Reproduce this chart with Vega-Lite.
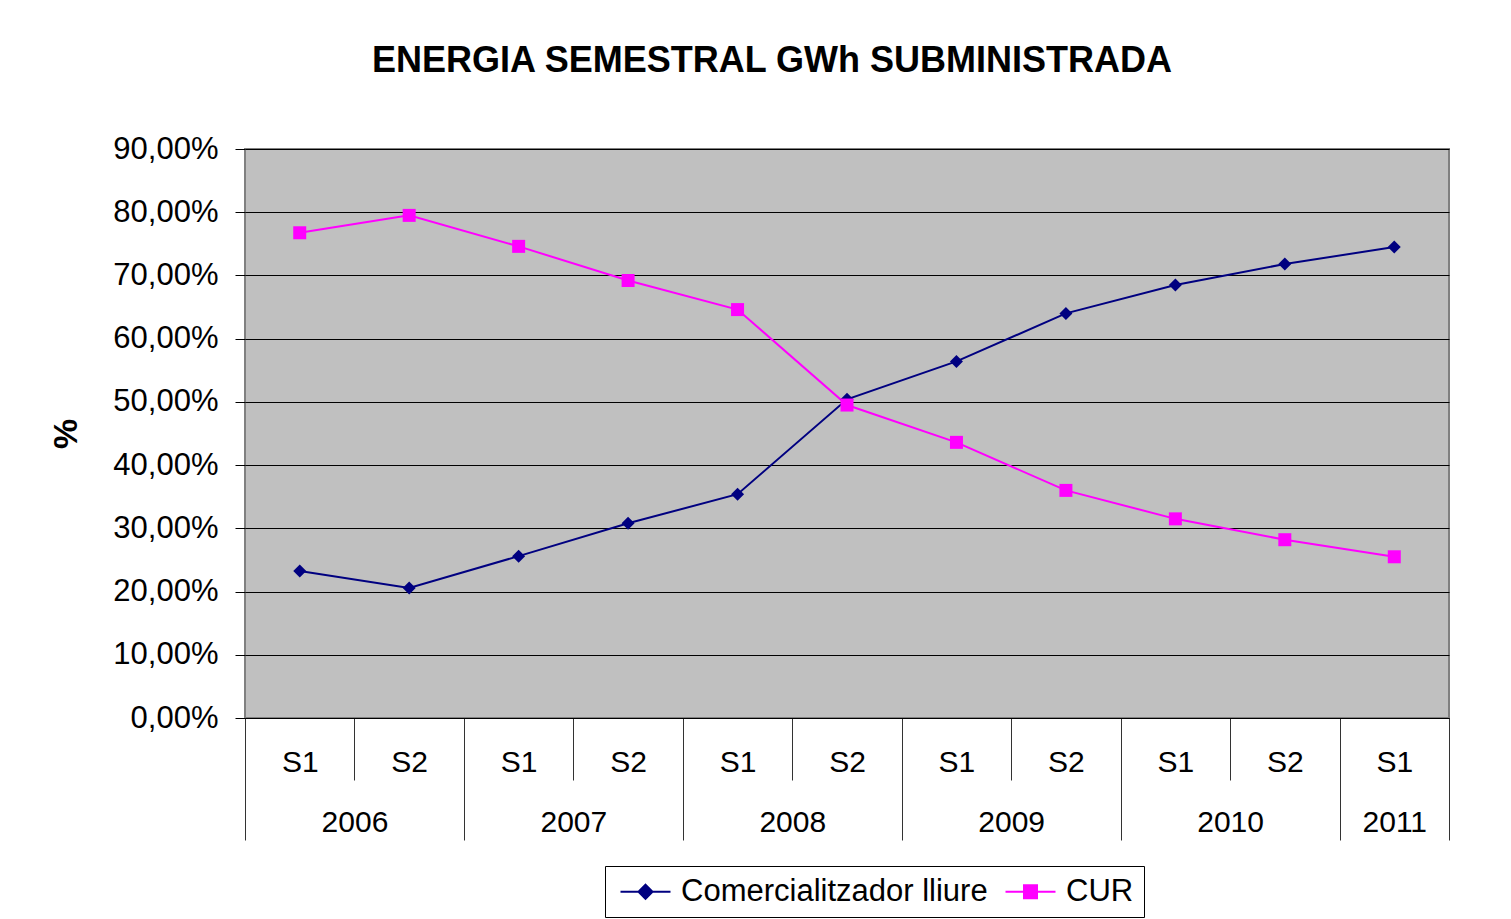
{
  "$schema": "https://vega.github.io/schema/vega-lite/v6.json",
  "width": 1204,
  "height": 569,
  "autosize": {"type": "none"},
  "padding": {"left": 245, "top": 149, "right": 62, "bottom": 201},
  "background": "white",
  "config": {
    "font": "Liberation Sans",
    "view": {"fill": "#C0C0C0", "stroke": "#808080", "strokeWidth": 2}
  },
  "title": {
    "text": "ENERGIA SEMESTRAL GWh SUBMINISTRADA",
    "font": "Liberation Sans",
    "fontSize": 36,
    "fontWeight": "bold",
    "color": "black",
    "anchor": "middle",
    "dx": -75,
    "offset": 53
  },
  "data": {
    "values": [
      {"semestre": 1, "any": 2006, "periode": "S1", "serie": "Comercialitzador lliure", "pct": 23.25},
      {"semestre": 2, "any": 2006, "periode": "S2", "serie": "Comercialitzador lliure", "pct": 20.56},
      {"semestre": 3, "any": 2007, "periode": "S1", "serie": "Comercialitzador lliure", "pct": 25.6},
      {"semestre": 4, "any": 2007, "periode": "S2", "serie": "Comercialitzador lliure", "pct": 30.8},
      {"semestre": 5, "any": 2008, "periode": "S1", "serie": "Comercialitzador lliure", "pct": 35.4},
      {"semestre": 6, "any": 2008, "periode": "S2", "serie": "Comercialitzador lliure", "pct": 50.4},
      {"semestre": 7, "any": 2009, "periode": "S1", "serie": "Comercialitzador lliure", "pct": 56.4},
      {"semestre": 8, "any": 2009, "periode": "S2", "serie": "Comercialitzador lliure", "pct": 64.0},
      {"semestre": 9, "any": 2010, "periode": "S1", "serie": "Comercialitzador lliure", "pct": 68.5},
      {"semestre": 10, "any": 2010, "periode": "S2", "serie": "Comercialitzador lliure", "pct": 71.8},
      {"semestre": 11, "any": 2011, "periode": "S1", "serie": "Comercialitzador lliure", "pct": 74.5},
      {"semestre": 1, "any": 2006, "periode": "S1", "serie": "CUR", "pct": 76.75},
      {"semestre": 2, "any": 2006, "periode": "S2", "serie": "CUR", "pct": 79.5},
      {"semestre": 3, "any": 2007, "periode": "S1", "serie": "CUR", "pct": 74.6},
      {"semestre": 4, "any": 2007, "periode": "S2", "serie": "CUR", "pct": 69.2},
      {"semestre": 5, "any": 2008, "periode": "S1", "serie": "CUR", "pct": 64.6},
      {"semestre": 6, "any": 2008, "periode": "S2", "serie": "CUR", "pct": 49.5},
      {"semestre": 7, "any": 2009, "periode": "S1", "serie": "CUR", "pct": 43.6},
      {"semestre": 8, "any": 2009, "periode": "S2", "serie": "CUR", "pct": 36.0},
      {"semestre": 9, "any": 2010, "periode": "S1", "serie": "CUR", "pct": 31.5},
      {"semestre": 10, "any": 2010, "periode": "S2", "serie": "CUR", "pct": 28.2},
      {"semestre": 11, "any": 2011, "periode": "S1", "serie": "CUR", "pct": 25.5}
    ]
  },
  "encoding": {
    "x": {
      "field": "semestre",
      "type": "quantitative",
      "scale": {"domain": [0.5, 11.5], "nice": false, "zero": false},
      "axis": {
        "title": null,
        "grid": false,
        "values": [0.5, 1, 1.5, 2, 2.5, 3, 3.5, 4, 4.5, 5, 5.5, 6, 6.5, 7, 7.5, 8, 8.5, 9, 9.5, 10, 10.5, 11, 11.5],
        "labelExpr": "datum.value == 11 ? ['S1', '2011'] : (datum.value % 1 == 0 ? (datum.value % 2 == 1 ? 'S1' : 'S2') : ((datum.value < 11 && (datum.value + 0.5) % 2 == 0) ? ['', '' + (2005 + (datum.value + 0.5) / 2)] : ''))",
        "labelOverlap": false,
        "labelFlush": false,
        "labelBound": false,
        "labelFont": "Liberation Sans",
        "labelFontSize": 30,
        "labelColor": "black",
        "labelBaseline": "top",
        "labelLineHeight": 60,
        "labelPadding": -33,
        "domainColor": "black",
        "domainWidth": 1,
        "tickColor": "#333333",
        "tickWidth": 1,
        "tickSize": {"condition": {"test": "indexof([0.5, 2.5, 4.5, 6.5, 8.5, 10.5, 11.5], datum.value) >= 0", "value": 122}, "value": 62},
        "tickOpacity": {"condition": {"test": "datum.value % 1 == 0", "value": 0}, "value": 1}
      }
    },
    "y": {
      "field": "pct",
      "type": "quantitative",
      "scale": {"domain": [0, 90], "nice": false, "zero": true},
      "axis": {
        "values": [0, 10, 20, 30, 40, 50, 60, 70, 80, 90],
        "labelExpr": "replace(format(datum.value, '.2f'), '.', ',') + '%'",
        "labelFont": "Liberation Sans",
        "labelFontSize": 31,
        "labelColor": "black",
        "labelPadding": 17,
        "tickSize": 10,
        "tickColor": "black",
        "domain": false,
        "grid": true,
        "gridColor": "black",
        "gridWidth": 1,
        "gridOpacity": 1,
        "title": "%",
        "titleFont": "Liberation Sans",
        "titleFontSize": 34,
        "titleFontWeight": "bold",
        "titleColor": "black",
        "titlePadding": 29
      }
    },
    "color": {
      "field": "serie",
      "type": "nominal",
      "scale": {"domain": ["Comercialitzador lliure", "CUR"], "range": ["#000080", "#FF00FF"]},
      "legend": {
        "orient": "none",
        "legendX": 360,
        "legendY": 717,
        "direction": "horizontal",
        "title": null,
        "labelFont": "Liberation Sans",
        "labelFontSize": 31,
        "labelColor": "black",
        "labelLimit": 500,
        "strokeColor": "black",
        "fillColor": "white",
        "padding": 10,
        "symbolSize": 400,
        "symbolStrokeWidth": 2,
        "labelOffset": 35,
        "columnPadding": 12,
        "encode": {
          "symbols": {
            "update": {
              "shape": {"signal": "datum.value === 'CUR' ? 'M-1,0H4M0.85,-0.65H2.15V0.65H0.85Z' : 'M-1,0H4M1.5,-0.7L2.2,0L1.5,0.7L0.8,0Z'"},
              "stroke": {"signal": "scale('color', datum.value)"},
              "fill": {"signal": "scale('color', datum.value)"},
              "strokeWidth": {"value": 2},
              "opacity": {"value": 1},
              "fillOpacity": {"value": 1},
              "strokeOpacity": {"value": 1}
            }
          }
        }
      }
    }
  },
  "layer": [
    {"mark": {"type": "line", "strokeWidth": 2}},
    {
      "transform": [{"filter": "datum.serie === 'Comercialitzador lliure'"}],
      "mark": {"type": "point", "filled": true, "shape": "diamond", "size": 169, "opacity": 1}
    },
    {
      "transform": [{"filter": "datum.serie === 'CUR'"}],
      "mark": {"type": "point", "filled": true, "shape": "square", "size": 169, "opacity": 1}
    }
  ]
}
